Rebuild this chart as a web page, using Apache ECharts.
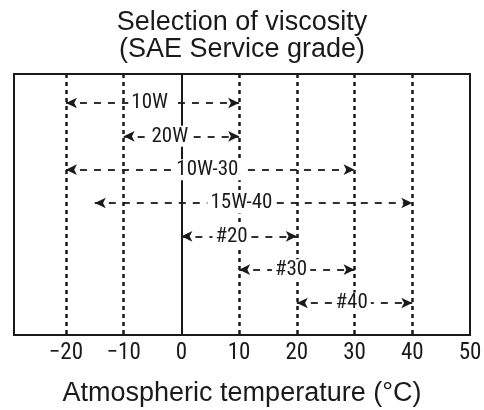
<!DOCTYPE html>
<html><head><meta charset="utf-8">
<script src="https://cdn.jsdelivr.net/npm/echarts@6/dist/echarts.min.js"></script>
<style>html,body{margin:0;padding:0;background:#fff}#c{width:484px;height:410px}</style>
</head><body><div id="c"></div>
<script>
const xTicks = [-20, -10, 0, 10, 20, 30, 40, 50];
const dottedLines = [-20, -10, 10, 20, 30, 40];
const solidLines = [0];
const grades = ['10W', '20W', '10W-30', '15W-40', '#20', '#30', '#40'];
const rangeFrom = [-20, -10, -20, -15, 0, 10, 20];
const rangeTo = [10, 10, 30, 40, 20, 30, 40];
const labelAt = [-5.5, -2, 4.5, 10.4, 8.7, 19, 29.5];

const narrow = '"Roboto Condensed", "DejaVu Sans Condensed", sans-serif';
const sans = '"Liberation Sans", Arial, Helvetica, sans-serif';
const ink = '#1a1a1a';

const chart = echarts.init(document.getElementById('c'), null, {renderer: 'canvas'});
chart.setOption({
  animation: false,
  backgroundColor: '#fff',
  title: {
    text: 'Selection of viscosity\n(SAE Service grade)',
    left: 'center', top: 4,
    textStyle: {fontFamily: sans, fontSize: 27, lineHeight: 27, fontWeight: 'normal', color: ink}
  },
  grid: {left: 14, right: 14, top: 74, bottom: 75, show: true, borderColor: ink, borderWidth: 2,
         backgroundColor: 'transparent', outerBoundsMode: 'none', containLabel: false},
  xAxis: {
    type: 'value', min: -29, max: 50,
    name: 'Atmospheric temperature (°C)', nameLocation: 'middle', nameGap: 45,
    nameTextStyle: {fontFamily: sans, fontSize: 27, color: ink},
    axisLine: {show: false}, axisTick: {show: false}, splitLine: {show: false},
    axisLabel: {
      customValues: xTicks, margin: 7,
      fontFamily: narrow, fontSize: 23, color: ink,
      formatter: v => (v < 0 ? '\u2212' + Math.abs(v) : String(v))
    }
  },
  yAxis: {
    type: 'value', inverse: true, min: -0.87, max: 6.96,
    axisLine: {show: false}, axisTick: {show: false}, splitLine: {show: false}, axisLabel: {show: false}
  },
  series: [
    {
      type: 'line', data: [], silent: true,
      markLine: {
        silent: true, symbol: ['none', 'none'], label: {show: false},
        lineStyle: {type: [4, 4], width: 2.5, color: ink},
        emphasis: {disabled: true},
        data: dottedLines.map(v => ({xAxis: v}))
      }
    },
    {
      type: 'line', data: [], silent: true,
      markLine: {
        silent: true, symbol: ['none', 'none'], label: {show: false},
        lineStyle: {type: 'solid', width: 2, color: ink},
        emphasis: {disabled: true},
        data: solidLines.map(v => ({xAxis: v}))
      }
    },
    {
      type: 'line', data: [], silent: true, z: 3,
      markLine: {
        silent: true, symbol: ['arrow', 'arrow'], symbolSize: [8, 11], label: {show: false},
        lineStyle: {type: [7, 7], width: 1.8, color: ink},
        emphasis: {disabled: true},
        data: grades.map((g, i) => [{coord: [rangeFrom[i], i]}, {coord: [rangeTo[i], i]}])
      }
    },
    {
      type: 'scatter', z: 5, silent: true, symbolSize: 0,
      itemStyle: {opacity: 1},
      data: grades.map((g, i) => ({value: [labelAt[i], i], name: g})),
      label: {
        show: true, position: 'inside', formatter: p => p.name, opacity: 1,
        fontFamily: narrow, fontSize: 21, color: ink,
        backgroundColor: '#fff', padding: [0, 3]
      }
    }
  ]
});
</script>
</body></html>
